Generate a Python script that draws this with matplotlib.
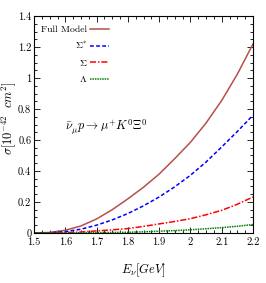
import numpy
from matplotlib import pyplot as plt
from matplotlib.ticker import MultipleLocator, FuncFormatter

plt.rcParams['font.family'] = 'serif'
plt.rcParams['font.serif'] = ['cmr10', 'DejaVu Serif']
plt.rcParams['mathtext.fontset'] = 'cm'
plt.rcParams['axes.formatter.use_mathtext'] = True

# energia del neutrino [GeV]
energy = [1.5, 1.55, 1.6, 1.65, 1.7, 1.75, 1.8, 1.85, 1.9, 1.95, 2.0, 2.05, 2.1, 2.15, 2.2]

# sezioni d'urto [1e-42 cm^2]
full_model = [0.0, 0.003, 0.017, 0.045, 0.09, 0.15, 0.22, 0.295, 0.38, 0.48, 0.585, 0.71, 0.855, 1.025, 1.22]
sigma_star = [0.0, 0.001, 0.008, 0.024, 0.05, 0.084, 0.125, 0.175, 0.232, 0.298, 0.372, 0.458, 0.555, 0.655, 0.76]
sigma = [0.0, 0.0, 0.002, 0.006, 0.013, 0.02, 0.028, 0.042, 0.058, 0.074, 0.092, 0.117, 0.146, 0.185, 0.232]
lam = [0.0, 0.0, 0.0, 0.001, 0.002, 0.003, 0.004, 0.007, 0.011, 0.015, 0.02, 0.027, 0.034, 0.043, 0.054]

fig = plt.figure(figsize=(2.66, 2.83), dpi=100)
ax = fig.add_axes([0.128, 0.177, 0.823, 0.766])

ax.plot(energy, full_model, '-', color='#b5504c', lw=1.1, label='Full Model')
ax.plot(energy, sigma_star, '--', color='#0000ff', lw=1.1, dashes=(2.5, 1.5), label=r'$\Sigma^{*}$')
ax.plot(energy, sigma, '-.', color='#ff0000', lw=1.1, dashes=(4, 1.2, 1, 1.2), label=r'$\Sigma$')
ax.plot(energy, lam, ':', color='#008000', lw=1.1, dashes=(1, 0.6), label=r'$\Lambda$')

ax.set_xlim(1.5, 2.2)
ax.set_ylim(0, 1.4)
ax.xaxis.set_major_locator(MultipleLocator(0.1))
ax.xaxis.set_minor_locator(MultipleLocator(0.025))
ax.yaxis.set_major_locator(MultipleLocator(0.2))
ax.yaxis.set_minor_locator(MultipleLocator(0.05))
fmt = FuncFormatter(lambda v, pos: '%g' % round(v, 3))
ax.xaxis.set_major_formatter(fmt)
ax.yaxis.set_major_formatter(fmt)
ax.tick_params(which='both', direction='in', top=True, right=True, labelsize=7.5, width=0.6)
ax.tick_params(which='major', length=4)
ax.tick_params(which='minor', length=2)
ax.tick_params(axis='y', pad=2)
for s in ax.spines.values():
    s.set_linewidth(0.8)

ax.set_xlabel(r'$E_{\nu}[GeV]$', fontsize=9, labelpad=10)
ax.set_ylabel(r'$\sigma[10^{-42}\ \ cm^{2}]$', fontsize=9)
ax.yaxis.set_label_coords(-0.075, 0.53)

ax.text(1.6, 0.68, r'$\bar{\nu}_{\mu}p \rightarrow \mu^{+}K^{0}\Xi^{0}$', fontsize=8.8, va='center')

ax.legend(loc='upper left', frameon=False, markerfirst=False, fontsize=7,
          handlelength=2.0, handletextpad=0.3, labelspacing=0.65,
          borderaxespad=0.3, bbox_to_anchor=(0.0, 0.99))

fig.savefig('out.png', dpi=100)
